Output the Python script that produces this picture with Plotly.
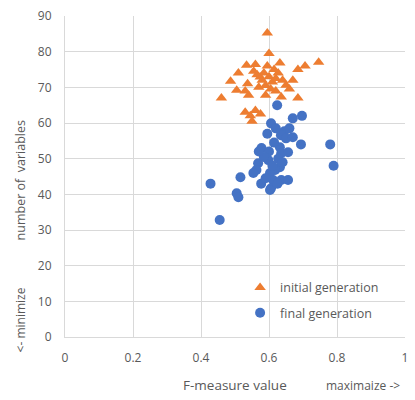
import plotly.graph_objects as go

init_x = [0.595, 0.600, 0.534, 0.560, 0.632, 0.510, 0.685, 0.706, 0.746, 0.487,
          0.537, 0.574, 0.585, 0.600, 0.610, 0.590, 0.620, 0.605, 0.580, 0.627,
          0.670, 0.650, 0.505, 0.540, 0.590, 0.636, 0.685, 0.460, 0.530, 0.545,
          0.560, 0.575, 0.550, 0.555, 0.570, 0.640, 0.615, 0.595, 0.660, 0.530,
          0.620, 0.565]
init_y = [85.2, 79.5, 76.2, 76.4, 76.8, 74.0, 75.0, 76.0, 77.0, 71.7,
          71.0, 72.9, 74.0, 73.0, 71.5, 70.5, 72.5, 69.5, 72.0, 74.0,
          72.0, 70.6, 69.2, 67.8, 67.8, 67.3, 67.0, 67.0, 63.0, 62.0,
          63.5, 62.5, 60.5, 74.5, 70.0, 72.0, 75.0, 76.0, 69.5, 69.0,
          69.0, 73.5]

final_x = [0.624, 0.697, 0.670, 0.606, 0.595, 0.645, 0.635, 0.650, 0.670, 0.694,
           0.780, 0.790, 0.578, 0.632, 0.636, 0.656, 0.568, 0.563, 0.598, 0.627,
           0.632, 0.618, 0.603, 0.554, 0.516, 0.577, 0.612, 0.636, 0.656, 0.606,
           0.603, 0.428, 0.505, 0.510, 0.455, 0.620, 0.600, 0.615, 0.585, 0.640,
           0.570, 0.610, 0.660, 0.590, 0.625]
final_y = [65.0, 62.0, 61.3, 59.9, 57.0, 57.7, 56.6, 55.7, 56.0, 54.0,
           54.0, 48.0, 53.0, 53.2, 51.5, 51.8, 48.7, 46.8, 49.6, 50.0,
           47.6, 46.8, 46.0, 46.0, 44.8, 43.0, 44.0, 44.0, 44.0, 41.7,
           41.2, 43.0, 40.3, 39.2, 32.8, 58.5, 52.0, 54.5, 50.5, 49.0,
           52.0, 48.0, 58.5, 44.5, 43.0]

x_ticks = [0, 0.2, 0.4, 0.6, 0.8, 1]
x_labels = ["0", "0.2", "0.4", "0.6", "0.8", "1"]
y_ticks = [0, 10, 20, 30, 40, 50, 60, 70, 80, 90]

font_family = "Open Sans"
grey = "#595959"

fig = go.Figure()
fig.add_trace(go.Scatter(
    x=init_x, y=init_y, mode="markers", name="initial generation",
    legendgroup="a",
    marker=dict(symbol="triangle-up", size=10, color="#ED7D31")))
fig.add_trace(go.Scatter(
    x=final_x, y=final_y, mode="markers", name="final generation",
    legendgroup="b",
    marker=dict(symbol="circle", size=10, color="#4472C4")))

fig.update_layout(
    width=415, height=400,
    margin=dict(l=65, r=7, t=16, b=63),
    paper_bgcolor="white", plot_bgcolor="white",
    font=dict(family=font_family, size=12, color=grey),
    showlegend=True,
    legend=dict(x=0.515, y=0.2, xanchor="left", yanchor="top",
                bgcolor="rgba(0,0,0,0)", font=dict(size=12.5, color=grey),
                tracegroupgap=6, itemwidth=30),
    xaxis=dict(range=[0, 1], tickvals=x_ticks, ticktext=x_labels,
               showgrid=True, gridcolor="#D9D9D9", zeroline=False,
               showline=True, linecolor="#D9D9D9", ticks="",
               ticklabelstandoff=10,
               tickfont=dict(size=12, color=grey)),
    yaxis=dict(range=[0, 90], tickvals=y_ticks,
               showgrid=True, gridcolor="#D9D9D9", zeroline=False,
               showline=True, linecolor="#D9D9D9", ticks="",
               ticklabelstandoff=10,
               tickfont=dict(size=12, color=grey)),
    annotations=[
        dict(text="F-measure value", xref="paper", yref="paper",
             x=(237 - 65) / 343, y=-(385 - 337) / 321, showarrow=False,
             xanchor="center", yanchor="middle", font=dict(size=13.5, color=grey)),
        dict(text="maximaize ->", xref="paper", yref="paper",
             x=(366 - 65) / 343, y=-(385 - 337) / 321, showarrow=False,
             xanchor="center", yanchor="middle", font=dict(size=12, color=grey)),
        dict(text="number of  variables", xref="paper", yref="paper",
             x=-(65 - 20) / 343, y=(337 - 180) / 321, showarrow=False,
             textangle=-90, xanchor="center", yanchor="middle",
             font=dict(size=12.5, color=grey)),
        dict(text="<- minimize", xref="paper", yref="paper",
             x=-(65 - 20) / 343, y=(337 - 320) / 321, showarrow=False,
             textangle=-90, xanchor="center", yanchor="middle",
             font=dict(size=12, color=grey)),
    ],
)

fig.write_html("out.html")
